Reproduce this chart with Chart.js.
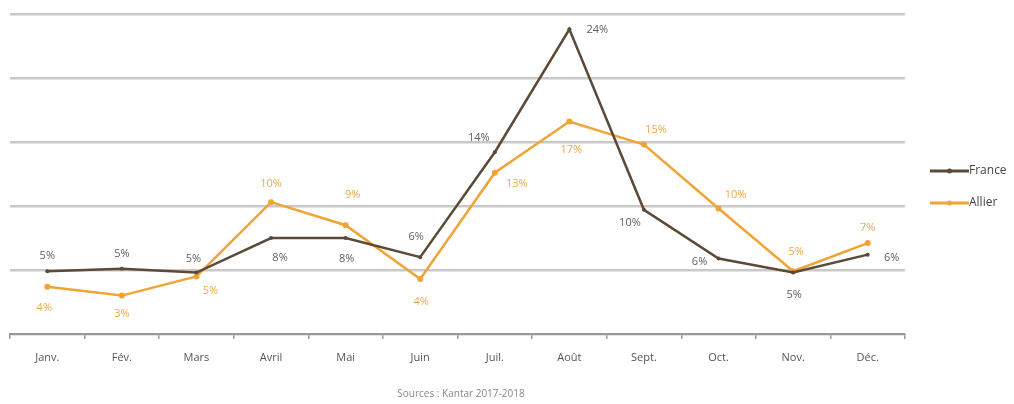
<!DOCTYPE html>
<html>
<head>
<meta charset="utf-8">
<script src="https://cdn.jsdelivr.net/npm/chart.js@4/dist/chart.umd.min.js"></script>
<style>
  html, body { margin: 0; padding: 0; background: #fff; }
  #wrap { width: 1014px; height: 404px; position: relative; }
</style>
</head>
<body>
<div id="wrap"><canvas id="c" width="1014" height="404"></canvas></div>
<script>
const months = ['Janv.', 'Fév.', 'Mars', 'Avril', 'Mai', 'Juin', 'Juil.', 'Août', 'Sept.', 'Oct.', 'Nov.', 'Déc.'];
const france = [4.9, 5.1, 4.8, 7.5, 7.5, 6.0, 14.2, 23.8, 9.7, 5.9, 4.8, 6.2];
const allier = [3.7, 3.0, 4.5, 10.3, 8.5, 4.3, 12.6, 16.6, 14.8, 9.8, 4.9, 7.1];
const franceLabels = ['5%', '5%', '5%', '8%', '8%', '6%', '14%', '24%', '10%', '6%', '5%', '6%'];
const allierLabels = ['4%', '3%', '5%', '10%', '9%', '4%', '13%', '17%', '15%', '10%', '5%', '7%'];
const seriesNames = ['France', 'Allier'];
const sourceText = 'Sources : Kantar 2017-2018';

// label placement offsets (dx, dy) relative to each point
const franceOffsets = [[0,-15],[0,-15],[-3,-14],[9,20],[1,21],[-4,-20],[-16,-14],[28,0],[-14,13],[-19,3],[1,22],[24,3]];
const allierOffsets = [[-3,21],[0,18],[14,14],[0,-18],[7,-30],[1,23],[22,11],[2,28],[12,-15],[17,-14],[3,-19],[0,-15]];

const FRANCE_COLOR = '#5b4a38';
const ALLIER_COLOR = '#f0a436';
const FRANCE_LABEL = '#5e5e5e';
const ALLIER_LABEL = '#eea84a';
const FONT = "'Open Sans', 'DejaVu Sans', sans-serif";

const labelPlugin = {
  id: 'pointLabels',
  afterDatasetsDraw(chart) {
    const ctx = chart.ctx;
    const sets = [
      { idx: 0, labels: franceLabels, offs: franceOffsets, color: FRANCE_LABEL },
      { idx: 1, labels: allierLabels, offs: allierOffsets, color: ALLIER_LABEL }
    ];
    ctx.save();
    ctx.font = '11px ' + FONT;
    ctx.textAlign = 'center';
    ctx.textBaseline = 'middle';
    sets.forEach(s => {
      const meta = chart.getDatasetMeta(s.idx);
      meta.data.forEach((pt, i) => {
        ctx.fillStyle = s.color;
        ctx.fillText(s.labels[i], pt.x + s.offs[i][0], pt.y + s.offs[i][1]);
      });
    });
    ctx.restore();
  }
};

const legendPlugin = {
  id: 'sideLegend',
  afterDraw(chart) {
    const ctx = chart.ctx;
    const items = [
      { name: seriesNames[0], color: FRANCE_COLOR, y: 171 },
      { name: seriesNames[1], color: ALLIER_COLOR, y: 203 }
    ];
    ctx.save();
    items.forEach(it => {
      ctx.strokeStyle = it.color;
      ctx.lineWidth = 3;
      ctx.beginPath();
      ctx.moveTo(930, it.y);
      ctx.lineTo(969, it.y);
      ctx.stroke();
      ctx.fillStyle = it.color;
      ctx.beginPath();
      ctx.arc(949.5, it.y, 2.5, 0, Math.PI * 2);
      ctx.fill();
      ctx.fillStyle = '#444';
      ctx.font = '12px ' + FONT;
      ctx.textAlign = 'left';
      ctx.textBaseline = 'middle';
      ctx.fillText(it.name, 969, it.y);
    });
    ctx.fillStyle = '#888';
    ctx.font = '10px ' + FONT;
    ctx.textAlign = 'center';
    ctx.fillText(sourceText, 461, 394);
    ctx.restore();
  }
};

new Chart(document.getElementById('c'), {
  type: 'line',
  data: {
    labels: months,
    datasets: [
      {
        label: seriesNames[0],
        data: france,
        borderColor: FRANCE_COLOR,
        backgroundColor: FRANCE_COLOR,
        borderWidth: 2.5,
        pointRadius: 2,
        pointBorderWidth: 0,
        tension: 0
      },
      {
        label: seriesNames[1],
        data: allier,
        borderColor: ALLIER_COLOR,
        backgroundColor: ALLIER_COLOR,
        borderWidth: 2.5,
        pointRadius: 3,
        pointBorderWidth: 0,
        tension: 0
      }
    ]
  },
  options: {
    responsive: false,
    animation: false,
    devicePixelRatio: 1,
    layout: { padding: { left: 10, right: 109, top: 14, bottom: 0 } },
    plugins: { legend: { display: false }, title: { display: false }, tooltip: { enabled: false } },
    scales: {
      x: {
        offset: true,
        grid: { display: true, drawOnChartArea: false, drawTicks: true, tickLength: 5, offset: true, color: '#999', lineWidth: 1.5 },
        border: { display: true, color: '#999', width: 2 },
        ticks: { color: '#555', font: { family: FONT, size: 11 }, padding: 12, maxRotation: 0, autoSkip: false },
        afterFit(s) { s.height = 70; }
      },
      y: {
        min: 0,
        max: 25,
        ticks: { display: false, stepSize: 5 },
        grid: { color: '#c9c9c9', lineWidth: 2.5, drawTicks: false },
        border: { display: false },
        afterFit(s) { s.width = 0; }
      }
    }
  },
  plugins: [labelPlugin, legendPlugin]
});
</script>
</body>
</html>
